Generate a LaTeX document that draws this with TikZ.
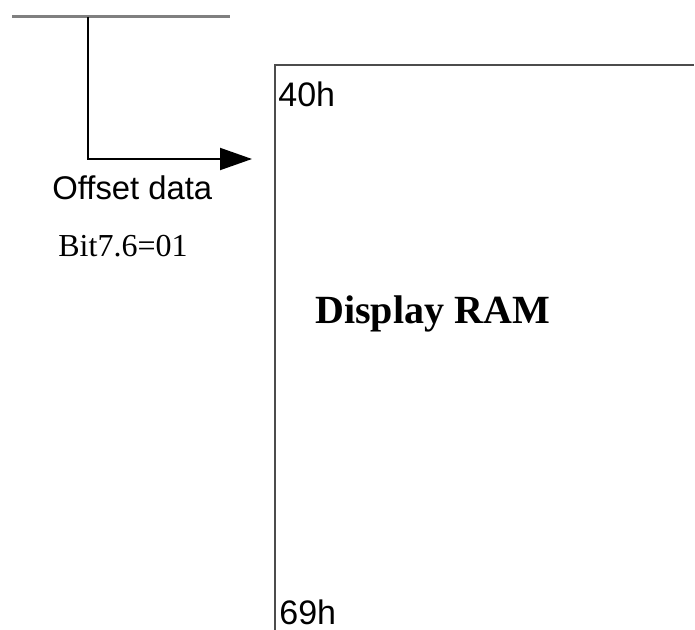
\documentclass[tikz,border=0pt]{standalone}
\usepackage{fontspec}
\setmainfont{Liberation Serif}
\newfontfamily\arialfont{Liberation Sans}
\usetikzlibrary{arrows.meta}
\begin{document}
\begin{tikzpicture}[x=0.5pt, y=-0.5pt,
    label text/.style={anchor=base west, inner sep=0pt},
    sans label/.style={label text, font=\arialfont\fontsize{16}{19}\selectfont},
    serif label/.style={label text, font=\fontsize{16}{19}\selectfont}]
  \useasboundingbox (0,0) rectangle (695,630);

  % Bus and offset arrow
  \coordinate (bus west) at (12,17);
  \coordinate (bus east) at (230,17);
  \coordinate (tap) at (88,17);
  \coordinate (bend) at (88,159);
  \coordinate (tip) at (252,159);
  \draw[gray, line width=1.5pt] (bus west) -- (bus east);
  \draw[line width=1pt, -{Triangle[length=16pt, width=11pt]}] (tap) -- (bend) -- (tip);
  \node[sans label, font=\arialfont\fontsize{16.4}{19}\selectfont] (offset) at (52,200) {Offset data};
  \node[serif label] (bits) at (58,257) {Bit7.6=01};

  % Display RAM block
  \coordinate (ram bottom) at (275,630);
  \coordinate (ram corner) at (275,65);
  \coordinate (ram right) at (694,65);
  \draw[black!70, line width=1pt] (ram bottom) -- (ram corner) -- (ram right);
  \node[label text, font=\bfseries\fontsize{20}{24}\selectfont] (ram) at (315,323) {Display RAM};
  \node[sans label, font=\arialfont\fontsize{17}{20}\selectfont] (first) at (278,107) {40h};
  \node[sans label, font=\arialfont\fontsize{17}{20}\selectfont] (last) at (279,624) {69h};
\end{tikzpicture}
\end{document}
